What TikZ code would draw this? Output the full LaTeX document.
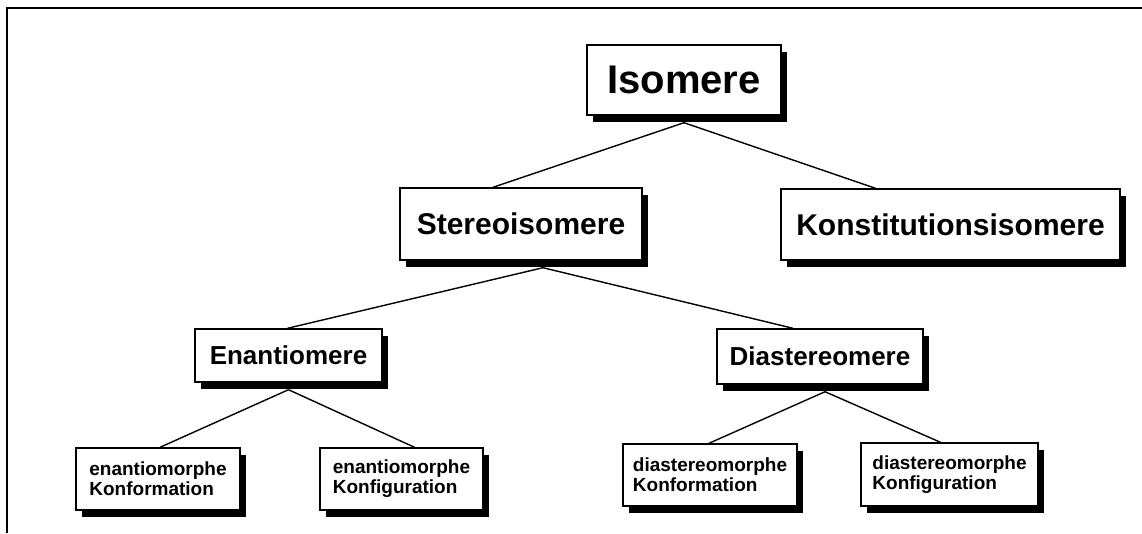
\documentclass[tikz,border=0pt]{standalone}
\usepackage{fontspec}
\setmainfont{Liberation Sans}
\usetikzlibrary{shadows}

\tikzset{
  box/.style={draw, line width=1.4pt, fill=white, inner sep=0pt,
    drop shadow={opacity=1, fill=black, shadow xshift=6pt, shadow yshift=-7pt}},
  top/.style={box, font=\bfseries\fontsize{40}{42}\selectfont},
  mid/.style={box, font=\bfseries\fontsize{30}{32}\selectfont},
  low/.style={box, font=\bfseries\fontsize{26}{28}\selectfont},
  leaf/.style={box, align=left, font=\bfseries\fontsize{19}{20}\selectfont}
}

\begin{document}
\begin{tikzpicture}[x=1pt, y=-1pt, line width=1.4pt]
  \useasboundingbox (0,0) rectangle (1142,533);
  %frame
  \draw[line width=2pt] (7,533) -- (7,8) -- (1142,8);

  \node[top, minimum width=194pt, minimum height=70pt] (iso) at (684,80) {Isomere};
  \node[mid, minimum width=242pt, minimum height=72pt] (sto) at (521,224) {Stereoisomere};
  \node[mid, minimum width=339pt, minimum height=71pt] (kon) at (950.5,224.5) {Konstitutionsisomere};
  \node[low, minimum width=187pt, minimum height=53pt] (ena) at (288.5,355.5) {Enantiomere};
  \node[low, minimum width=206pt, minimum height=55pt] (dia) at (820,356.5) {Diastereomere};
  \node[leaf, minimum width=164pt, minimum height=62pt] (ekf) at (158,479) {enantiomorphe\\Konformation};
  \node[leaf, minimum width=163pt, minimum height=62pt] (ekg) at (401.5,479) {enantiomorphe\\Konfiguration};
  \node[leaf, minimum width=174pt, minimum height=62pt] (dkf) at (710,475) {diastereomorphe\\Konformation};
  \node[leaf, minimum width=177pt, minimum height=63pt] (dkg) at (949.5,474.5) {diastereomorphe\\Konfiguration};

  \foreach \a/\dx/\b/\ex in {iso/0/sto/-28, iso/0/kon/-75, sto/22/ena/-1, sto/22/dia/-27,
      ena/0/ekf/2, ena/0/ekg/13, dia/5/dkf/-1, dia/5/dkg/-9}
    \draw ([xshift=\dx pt, yshift=-7pt]\a.south) -- ([xshift=\ex pt]\b.north);
\end{tikzpicture}
\end{document}
